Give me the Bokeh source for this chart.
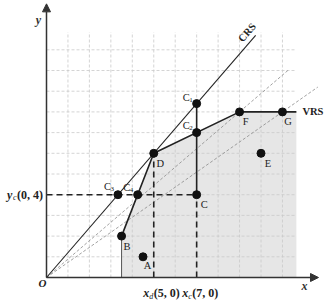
from bokeh.plotting import figure
from bokeh.models import Range1d, Arrow, NormalHead, ColumnDataSource
from bokeh.core.properties import value
from bokeh.embed import file_html
from bokeh.resources import INLINE

# ---- data ----
pt_names = ["A", "B", "C", "C", "C", "C", "C", "D", "E", "F", "G"]
pt_subs = ["", "", "", "1", "2", "3", "4", "", "", "", ""]
pt_x = [4.5, 3.5, 7.0, 7.0, 7.0, 3.33, 4.25, 5.0, 10.0, 9.0, 11.0]
pt_y = [1.0, 2.0, 4.0, 8.4, 7.0, 4.0, 4.0, 6.0, 6.0, 8.0, 8.0]
lab_dx = [4.5, 5.5, 7.5, -8, -8, -8, -8.5, 6.5, 7, 6, 5.5]
lab_dy = [9, 10.5, 10, -6, -7.5, -8, -7, 10, 10.5, 10, 10]

vrs_x = [3.5, 5.0, 9.0, 11.0, 11.65]
vrs_y = [2.0, 6.0, 8.0, 8.0, 8.0]
crs_x = [0.0, 9.75]
crs_slope = 1.2
ray_targets_x = [9.0, 11.0]
ray_targets_y = [8.0, 8.0]
ray_end_x = [11.3, 12.65]
grid_vals = list(range(1, 12))
grid_max_x = 11.65
grid_max_y = 11.85

# scale
sx = 21.45
sy = 20.7
W, H = 326, 302
ox, oy = 46, 277

p = figure(width=W, height=H, output_backend="svg", toolbar_location=None,
           x_range=Range1d(-ox / sx, (W - ox) / sx),
           y_range=Range1d(-(H - oy) / sy, oy / sy),
           min_border=0)
p.axis.visible = False
p.grid.visible = False
p.outline_line_color = None
p.background_fill_color = "white"
p.border_fill_color = "white"

# shaded VRS region
fx = [vrs_x[0]] + vrs_x + [vrs_x[-1]]
fy = [0.0] + vrs_y + [0.0]
p.patch(fx, fy, fill_color="#e6e6e6", line_color=None)

# grid
gc = "#c9c9c9"
p.multi_line(xs=[[g, g] for g in grid_vals], ys=[[0, grid_max_y] for g in grid_vals],
             line_color=gc, line_width=0.8, line_dash="3 2")
p.multi_line(xs=[[0, grid_max_x] for g in grid_vals], ys=[[g, g] for g in grid_vals],
             line_color=gc, line_width=0.8, line_dash="3 2")

# rays from origin
rxs, rys = [], []
for tx, ty, ex in zip(ray_targets_x, ray_targets_y, ray_end_x):
    rxs.append([0, ex])
    rys.append([0, ex * ty / tx])
p.multi_line(xs=rxs, ys=rys, line_color="#8a8a8a", line_width=0.8, line_dash="3 2")

# CRS line
p.line(crs_x, [v * crs_slope for v in crs_x], line_color="#222222", line_width=1.1)

# VRS frontier
p.line([vrs_x[0], vrs_x[0]], [0, vrs_y[0]], line_color="#555555", line_width=1)
p.line(vrs_x, vrs_y, line_color="#222222", line_width=1.6)

# C1 - C vertical
p.line([pt_x[3], pt_x[2]], [pt_y[3], pt_y[2]], line_color="#222222", line_width=1.6)

# dashed projection lines
p.line([0, pt_x[2]], [pt_y[2], pt_y[2]], line_color="#222222", line_width=1.6, line_dash="6 4")
p.line([pt_x[7], pt_x[7]], [0, pt_y[7]], line_color="#222222", line_width=1.6, line_dash="6 4")
p.line([pt_x[2], pt_x[2]], [0, pt_y[2]], line_color="#222222", line_width=1.6, line_dash="6 4")

# axes with arrows
p.add_layout(Arrow(end=NormalHead(size=8, fill_color="#333333", line_color="#333333"),
                   x_start=0, y_start=0, x_end=0, y_end=13.22,
                   line_color="#333333", line_width=1.5))
p.add_layout(Arrow(end=NormalHead(size=8, fill_color="#333333", line_color="#333333"),
                   x_start=0, y_start=0, x_end=12.68, y_end=0,
                   line_color="#333333", line_width=1.5))

# points
main_dx = [d - (2.5 if s else 0) for d, s in zip(lab_dx, pt_subs)]
sub_dx = [d + 0.5 for d in lab_dx]
sub_dy = [d + 2.5 for d in lab_dy]
src = ColumnDataSource(dict(x=pt_x, y=pt_y, name=pt_names, sub=pt_subs,
                            dx=main_dx, dy=lab_dy, sdx=sub_dx, sdy=sub_dy))
p.scatter("x", "y", source=src, size=8, fill_color="#111111", line_color="#111111")
serif = value("Liberation Serif")
p.text("x", "y", text="name", source=src, x_offset="dx", y_offset="dy",
       text_font=serif, text_font_size="10.5px",
       text_align="center", text_baseline="middle", text_color="#222222")
p.text("x", "y", text="sub", source=src, x_offset="sdx", y_offset="sdy",
       text_font=serif, text_font_size="7px",
       text_align="left", text_baseline="middle", text_color="#222222")

# line labels
p.text([vrs_x[-1]], [vrs_y[-1]], text=["VRS"], x_offset=6, y_offset=0,
       text_font=serif, text_font_size="10.5px", text_font_style="bold",
       text_align="left", text_baseline="middle", text_color="#222222")
p.text([9.3], [9.3 * crs_slope], text=["CRS"], x_offset=1, y_offset=-14, angle=0.86,
       text_font=serif, text_font_size="10.5px", text_font_style="bold",
       text_align="center", text_baseline="middle", text_color="#222222")

# axis labels
p.text([0], [13.22], text=["y"], x_offset=-8, y_offset=16,
       text_font=serif, text_font_size="12px", text_font_style="bold italic",
       text_align="center", text_baseline="middle", text_color="#333333")
p.text([12.68], [0], text=["x"], x_offset=-14, y_offset=8,
       text_font=serif, text_font_size="12px", text_font_style="bold italic",
       text_align="center", text_baseline="middle", text_color="#333333")
p.text([0], [0], text=["O"], x_offset=-4, y_offset=5,
       text_font=serif, text_font_size="11px", text_font_style="bold italic",
       text_align="center", text_baseline="middle", text_color="#222222")

# coordinate labels: y_c(0,4), x_d(5,0), x_c(7,0)
def compound(px, py, main, sub, rest, offs, ybase):
    (o1, o2, o3) = offs
    p.text([px], [py], text=[main], x_offset=o1, y_offset=ybase,
           text_font=serif, text_font_size="12px", text_font_style="bold italic",
           text_align="left", text_baseline="middle", text_color="#222222")
    p.text([px], [py], text=[sub], x_offset=o2, y_offset=ybase + 3,
           text_font=serif, text_font_size="8px", text_font_style="italic",
           text_align="left", text_baseline="middle", text_color="#222222")
    p.text([px], [py], text=[rest], x_offset=o3, y_offset=ybase,
           text_font=serif, text_font_size="12px", text_font_style="bold",
           text_align="left", text_baseline="middle", text_color="#222222")

compound(0, pt_y[2], "y", "c", "(0, 4)", (-39.5, -33.5, -29.5), 0)
compound(pt_x[7], 0, "x", "d", "(5, 0)", (-10.5, -4.5, 0), 15.5)
compound(pt_x[2], 0, "x", "c", "(7, 0)", (-14.5, -8.5, -4.5), 15.5)

open("out.html", "w").write(file_html(p, INLINE))
